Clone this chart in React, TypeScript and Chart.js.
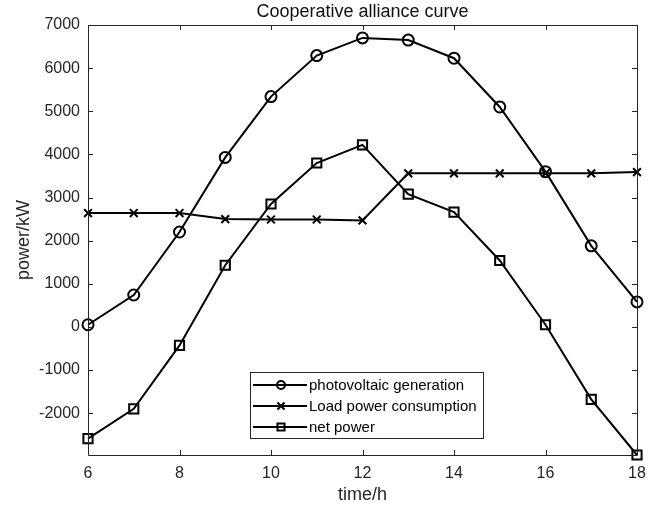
import React, { useEffect, useRef } from "react";
import { Chart, registerables } from "chart.js";

Chart.register(...registerables);

const hours = [6, 7, 8, 9, 10, 11, 12, 13, 14, 15, 16, 17, 18];
const pvGeneration = [50, 740, 2200, 3930, 5340, 6290, 6700, 6650, 6230, 5100, 3600, 1880, 580];
const loadConsumption = [2640, 2640, 2640, 2500, 2490, 2490, 2470, 3560, 3560, 3560, 3560, 3560, 3590];
const netPower = [-2590, -1900, -430, 1430, 2850, 3800, 4220, 3080, 2660, 1540, 50, -1680, -2970];
const xTicks = [6, 8, 10, 12, 14, 16, 18];
const yTicks = [-2000, -1000, 0, 1000, 2000, 3000, 4000, 5000, 6000, 7000];
const seriesNames = ["photovoltaic generation", "Load power consumption", "net power"];
const titleText = "Cooperative alliance curve";
const xLabel = "time/h";
const yLabel = "power/kW";

const FONT = '"Liberation Sans", Arial, Helvetica, sans-serif';
const AXIS_COLOR = "#262626";

function drawMarker(ctx: CanvasRenderingContext2D, style: string, x: number, y: number, r: number) {
  ctx.beginPath();
  if (style === "circle") {
    ctx.arc(x, y, r, 0, Math.PI * 2);
  } else if (style === "crossRot") {
    const d = r * Math.SQRT1_2;
    ctx.moveTo(x - d, y - d);
    ctx.lineTo(x + d, y + d);
    ctx.moveTo(x - d, y + d);
    ctx.lineTo(x + d, y - d);
  } else {
    const s = r * Math.SQRT1_2;
    ctx.rect(x - s, y - s, 2 * s, 2 * s);
  }
  ctx.stroke();
}

const framePlugin = {
  id: "matlabFrame",
  afterDatasetsDraw(chart: any) {
    const { ctx, chartArea: a, scales } = chart;
    ctx.save();
    ctx.strokeStyle = AXIS_COLOR;
    ctx.lineWidth = 1;
    ctx.beginPath();
    ctx.rect(Math.round(a.left) + 0.5, Math.round(a.top) + 0.5, Math.round(a.right - a.left), Math.round(a.bottom - a.top));
    const tl = 5;
    xTicks.forEach((v) => {
      const px = Math.round(scales.x.getPixelForValue(v)) + 0.5;
      ctx.moveTo(px, a.bottom);
      ctx.lineTo(px, a.bottom - tl);
      ctx.moveTo(px, a.top);
      ctx.lineTo(px, a.top + tl);
    });
    yTicks.forEach((v) => {
      const py = Math.round(scales.y.getPixelForValue(v)) + 0.5;
      ctx.moveTo(a.left, py);
      ctx.lineTo(a.left + tl, py);
      ctx.moveTo(a.right, py);
      ctx.lineTo(a.right - tl, py);
    });
    ctx.stroke();
    ctx.restore();
  },
};

const textPlugin = {
  id: "matlabTexts",
  afterDraw(chart: any) {
    const { ctx, chartArea: a } = chart;
    const cx = (a.left + a.right) / 2;
    ctx.save();
    ctx.textAlign = "center";
    ctx.textBaseline = "middle";
    ctx.font = `18px ${FONT}`;
    ctx.fillStyle = "#111";
    ctx.fillText(titleText, cx, a.top - 13);
    ctx.fillStyle = AXIS_COLOR;
    ctx.fillText(xLabel, cx, a.bottom + 40);
    ctx.translate(a.left - 64, (a.top + a.bottom) / 2);
    ctx.rotate(-Math.PI / 2);
    ctx.fillText(yLabel, 0, 0);
    ctx.restore();
  },
};

const legendPlugin = {
  id: "matlabLegend",
  afterDraw(chart: any) {
    const { ctx, chartArea: a } = chart;
    const left = a.left + 162;
    const top = a.bottom - 83;
    const w = 233;
    const h = 66;
    ctx.save();
    ctx.fillStyle = "#fff";
    ctx.fillRect(left, top, w, h);
    ctx.strokeStyle = AXIS_COLOR;
    ctx.lineWidth = 1;
    ctx.strokeRect(Math.round(left) + 0.5, Math.round(top) + 0.5, w, h);
    ctx.font = `15px ${FONT}`;
    ctx.textBaseline = "middle";
    ctx.textAlign = "left";
    chart.data.datasets.forEach((ds: any, i: number) => {
      const y = top + 13 + i * 21;
      ctx.strokeStyle = "#000";
      ctx.lineWidth = 2;
      ctx.beginPath();
      ctx.moveTo(left + 3, y);
      ctx.lineTo(left + 57, y);
      ctx.stroke();
      drawMarker(ctx, ds.pointStyle, left + 31, y, ds.pointStyle === "circle" ? 4 : 5);
      ctx.fillStyle = "#000";
      ctx.fillText(ds.label, left + 59, y + 1);
    });
    ctx.restore();
  },
};

function makeData(values: number[]) {
  return hours.map((h, i) => ({ x: h, y: values[i] }));
}

export default function App() {
  const canvasRef = useRef<HTMLCanvasElement | null>(null);

  useEffect(() => {
    if (!canvasRef.current) return;
    const common = {
      borderColor: "#000",
      borderWidth: 2,
      pointBorderColor: "#000",
      pointBackgroundColor: "rgba(0,0,0,0)",
      pointBorderWidth: 2,
      tension: 0,
      clip: false as any,
    };
    const chart = new Chart(canvasRef.current, {
      type: "line",
      data: {
        datasets: [
          { ...common, label: seriesNames[0], data: makeData(pvGeneration), pointStyle: "circle", pointRadius: 5.5 },
          { ...common, label: seriesNames[1], data: makeData(loadConsumption), pointStyle: "crossRot", pointRadius: 5.5 },
          { ...common, label: seriesNames[2], data: makeData(netPower), pointStyle: "rect", pointRadius: 6.5 },
        ] as any,
      },
      options: {
        responsive: false,
        animation: false,
        layout: { padding: { top: 25, right: 24, left: 0, bottom: 0 } },
        plugins: { legend: { display: false }, title: { display: false }, tooltip: { enabled: false } },
        scales: {
          x: {
            type: "linear",
            min: 6,
            max: 18,
            grid: { display: false, drawTicks: false },
            border: { display: false },
            afterBuildTicks: (scale: any) => {
              scale.ticks = xTicks.map((v) => ({ value: v }));
            },
            afterFit: (scale: any) => {
              scale.height = 56;
            },
            ticks: {
              padding: 9,
              color: AXIS_COLOR,
              font: { family: FONT, size: 16 },
              maxRotation: 0,
              autoSkip: false,
              callback: (v: any) => String(v),
            },
          },
          y: {
            type: "linear",
            min: -2970,
            max: 7000,
            grid: { display: false, drawTicks: false },
            border: { display: false },
            afterBuildTicks: (scale: any) => {
              scale.ticks = yTicks.map((v) => ({ value: v }));
            },
            afterFit: (scale: any) => {
              scale.width = 88;
            },
            ticks: {
              padding: 8,
              color: AXIS_COLOR,
              font: { family: FONT, size: 16 },
              autoSkip: false,
              callback: (v: any) => String(v),
            },
          },
        },
      },
      plugins: [framePlugin, textPlugin, legendPlugin],
    });
    return () => chart.destroy();
  }, []);

  return (
    <div style={{ position: "fixed", left: 0, top: 0, width: 661, height: 511, background: "#fff" }}>
      <canvas ref={canvasRef} width={661} height={511} />
    </div>
  );
}
